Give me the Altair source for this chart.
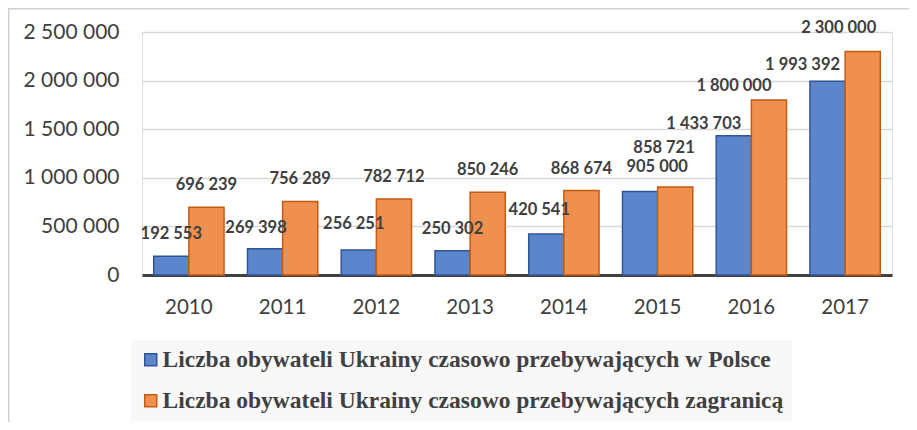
import altair as alt
import pandas as pd

years = ["2010", "2011", "2012", "2013", "2014", "2015", "2016", "2017"]
in_poland = [192553, 269398, 256251, 250302, 420541, 858721, 1433703, 1993392]
abroad = [696239, 756289, 782712, 850246, 868674, 905000, 1800000, 2300000]
series = [
    "Liczba obywateli Ukrainy czasowo przebywających w Polsce",
    "Liczba obywateli Ukrainy czasowo przebywających zagranicą",
]
y_ticks = [0, 500000, 1000000, 1500000, 2000000, 2500000]

rows = []
for i, yr in enumerate(years):
    rows.append({"year": yr, "series": series[0], "value": in_poland[i], "key": yr + "-0"})
    rows.append({"year": yr, "series": series[1], "value": abroad[i], "key": yr + "-1"})
df = pd.DataFrame(rows)

fills = ["#5B86CC", "#F0904F"]
strokes = ["#2F5597", "#C55A11"]

W, H = 750, 243
PAD_L, PAD_T, PAD_R, PAD_B = 134, 24, 17, 147

x_enc = alt.X(
    "year:N", title=None,
    scale=alt.Scale(paddingInner=0.25, paddingOuter=0.125),
    axis=alt.Axis(labelAngle=0, ticks=False, domainColor="#404040", domainWidth=3,
                  labelFont="Lato", labelFontSize=20.5, labelColor="#404040",
                  labelPadding=22, grid=False),
)
xoff_enc = alt.XOffset("series:N", scale=alt.Scale(domain=series, paddingInner=0, paddingOuter=0))
y_enc = alt.Y(
    "value:Q", title=None,
    scale=alt.Scale(domain=[0, 2500000], nice=False),
    axis=alt.Axis(values=y_ticks, format=",d", domain=False, ticks=False, grid=True,
                  gridColor="#d9d9d9", gridWidth=1.5, labelFont="Lato", labelFontSize=21,
                  labelColor="#404040", labelPadding=23),
)

legend = alt.Legend(
    title=None, orient="none", legendX=-11, legendY=308, direction="vertical",
    fillColor="#f8f8f8", padding=8, symbolType="square", symbolSize=144,
    symbolStrokeWidth=1.5, labelFont="Liberation Serif", labelFontWeight="bold",
    labelFontSize=23.5, labelColor="#404040", labelLimit=0, rowPadding=16, labelOffset=0,
)

bars = alt.Chart(df).mark_bar(strokeWidth=1.5).encode(
    x=x_enc, xOffset=xoff_enc, y=y_enc,
    color=alt.Color("series:N", scale=alt.Scale(domain=series, range=fills), legend=legend),
    stroke=alt.Stroke("series:N", scale=alt.Scale(domain=series, range=strokes), legend=legend),
)

# label nudges (dx, dy) in pixels, as placed in the original
default_nudge = (0, -22)
nudges = {
    "2011-0": (-9, -21), "2012-0": (-5, -26), "2014-0": (-7, -24),
    "2015-0": (24, -44), "2015-1": (-18, -20),
    "2016-0": (-30, -12), "2016-1": (-35, -14),
    "2017-0": (-25, -16), "2017-1": (-24, -23),
}
groups = {}
for k in df["key"]:
    groups.setdefault(nudges.get(k, default_nudge), []).append(k)

layers = [bars]
for (dx, dy), keys in groups.items():
    layers.append(
        alt.Chart(df).transform_filter(alt.FieldOneOfPredicate(field="key", oneOf=keys))
        .mark_text(dx=dx, dy=dy, baseline="middle", align="center", font="Lato",
                   fontWeight="bold", fontSize=16.5, color="#404040")
        .encode(x=x_enc, xOffset=xoff_enc, y=y_enc, text=alt.Text("value:Q", format=",d"))
    )

frame_df = pd.DataFrame({"a": [0]})
left_frame = alt.Chart(frame_df).mark_rule(color="#d0d0d0", strokeWidth=1.5).encode(
    x=alt.value(-PAD_L + 0.75), y=alt.value(-PAD_T), y2=alt.value(H + PAD_B))
top_frame = alt.Chart(frame_df).mark_rule(color="#d0d0d0", strokeWidth=1.5).encode(
    x=alt.value(-PAD_L), x2=alt.value(W + PAD_R), y=alt.value(-PAD_T + 0.75))
layers += [left_frame, top_frame]

chart = alt.layer(*layers).properties(
    width=W, height=H,
    padding={"left": PAD_L, "top": PAD_T, "right": PAD_R, "bottom": PAD_B},
    autosize=alt.AutoSizeParams(type="none"),
).configure_view(stroke=None).configure(
    locale={"number": {"decimal": ",", "thousands": " ", "grouping": [3], "currency": ["", " zł"]}}
)

chart.save("out.html", embed_options={"renderer": "svg", "actions": False})
